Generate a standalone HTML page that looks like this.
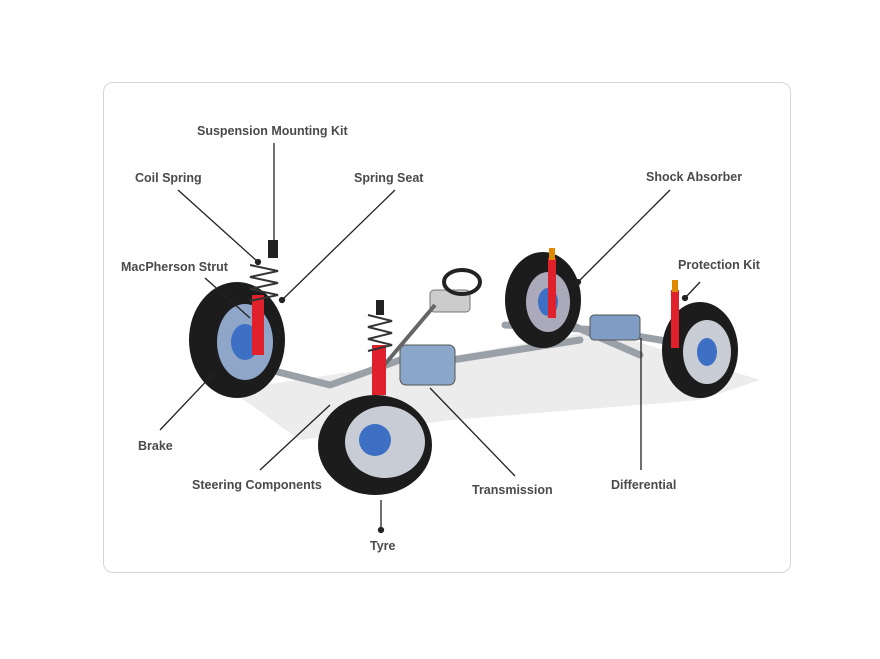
<!DOCTYPE html>
<html><head><meta charset="utf-8"><style>
html,body{margin:0;padding:0;background:#fff;}
.wrap{position:relative;width:880px;height:659px;overflow:hidden;}
.card{position:absolute;left:103px;top:82px;width:686px;height:489px;border:1px solid #d6d6d6;border-radius:10px;}
svg{position:absolute;left:0;top:0;}
text{font-family:"Liberation Sans",sans-serif;font-weight:bold;font-size:12.5px;fill:#4a4a4a;}
</style></head><body><div class="wrap"><div class="card"></div>
<svg width="880" height="659" viewBox="0 0 880 659">
<path d="M230,390 L430,360 L600,330 L760,380 L700,400 L450,420 L300,440 Z" fill="#ececec"/>
<g stroke="#9aa0a8" stroke-width="7" fill="none" stroke-linecap="round">
<path d="M250,365 L330,385 L400,360"/>
<path d="M420,365 L580,340"/>
<path d="M505,325 L600,330 L690,345"/>
<path d="M560,320 L640,355"/>
</g>
<rect x="400" y="345" width="55" height="40" rx="6" fill="#8aa6c8" stroke="#555" stroke-width="1"/>
<rect x="430" y="290" width="40" height="22" rx="4" fill="#ccc" stroke="#777"/>
<ellipse cx="462" cy="282" rx="18" ry="12" fill="none" stroke="#222" stroke-width="4"/>
<path d="M380,370 L435,305" stroke="#666" stroke-width="4"/>
<rect x="590" y="315" width="50" height="25" rx="4" fill="#7f9cc4" stroke="#555"/>
<ellipse cx="543" cy="300" rx="38" ry="48" fill="#1c1c1c"/>
<ellipse cx="548" cy="302" rx="22" ry="30" fill="#aab"/>
<ellipse cx="548" cy="302" rx="10" ry="14" fill="#3d6fc4"/>
<ellipse cx="700" cy="350" rx="38" ry="48" fill="#1c1c1c"/>
<ellipse cx="707" cy="352" rx="24" ry="32" fill="#c8ccd4"/>
<ellipse cx="707" cy="352" rx="10" ry="14" fill="#3d6fc4"/>
<rect x="548" y="258" width="8" height="60" fill="#e0202a"/>
<rect x="549" y="248" width="6" height="12" fill="#e08a00"/>
<rect x="671" y="290" width="8" height="58" fill="#e0202a"/>
<rect x="672" y="280" width="6" height="12" fill="#e08a00"/>
<ellipse cx="237" cy="340" rx="48" ry="58" fill="#1c1c1c"/>
<ellipse cx="245" cy="342" rx="28" ry="38" fill="#8fa6c8"/>
<ellipse cx="245" cy="342" rx="14" ry="18" fill="#3d6fc4"/>
<rect x="252" y="295" width="12" height="60" fill="#e0202a"/>
<g stroke="#333" stroke-width="2" fill="none">
<path d="M250,265 l28,6 l-28,6 l28,6 l-28,6 l28,6 l-28,6"/>
</g>
<rect x="268" y="240" width="10" height="18" fill="#222"/>
<ellipse cx="375" cy="445" rx="57" ry="50" fill="#1c1c1c"/>
<ellipse cx="385" cy="442" rx="40" ry="36" fill="#c8ccd4"/>
<ellipse cx="375" cy="440" rx="16" ry="16" fill="#3d6fc4"/>
<rect x="372" y="345" width="14" height="50" fill="#e0202a"/>
<g stroke="#333" stroke-width="2" fill="none">
<path d="M368,315 l24,6 l-24,6 l24,6 l-24,6 l24,6 l-24,6"/>
</g>
<rect x="376" y="300" width="8" height="15" fill="#222"/>
<g stroke="#222" stroke-width="1.3" fill="#222">
<line x1="274" y1="143" x2="274" y2="245"/><circle cx="274" cy="245" r="3"/>
<line x1="178" y1="190" x2="258" y2="262"/><circle cx="258" cy="262" r="2.5"/>
<line x1="395" y1="190" x2="282" y2="300"/><circle cx="282" cy="300" r="2.5"/>
<line x1="205" y1="278" x2="250" y2="318"/>
<line x1="670" y1="190" x2="578" y2="282"/><circle cx="578" cy="282" r="2.5"/>
<line x1="700" y1="282" x2="685" y2="298"/><circle cx="685" cy="298" r="2.5"/>
<line x1="160" y1="430" x2="215" y2="372"/>
<line x1="260" y1="470" x2="330" y2="405"/>
<line x1="515" y1="476" x2="430" y2="388"/>
<line x1="641" y1="470" x2="641" y2="338"/>
<line x1="381" y1="530" x2="381" y2="500"/><circle cx="381" cy="530" r="2.5"/>
</g>
<text x="197" y="135">Suspension Mounting Kit</text>
<text x="135" y="182">Coil Spring</text>
<text x="354" y="182">Spring Seat</text>
<text x="121" y="271">MacPherson Strut</text>
<text x="646" y="181">Shock Absorber</text>
<text x="678" y="269">Protection Kit</text>
<text x="138" y="450">Brake</text>
<text x="192" y="489">Steering Components</text>
<text x="472" y="494">Transmission</text>
<text x="611" y="489">Differential</text>
<text x="370" y="550">Tyre</text>
</svg></div></body></html>
